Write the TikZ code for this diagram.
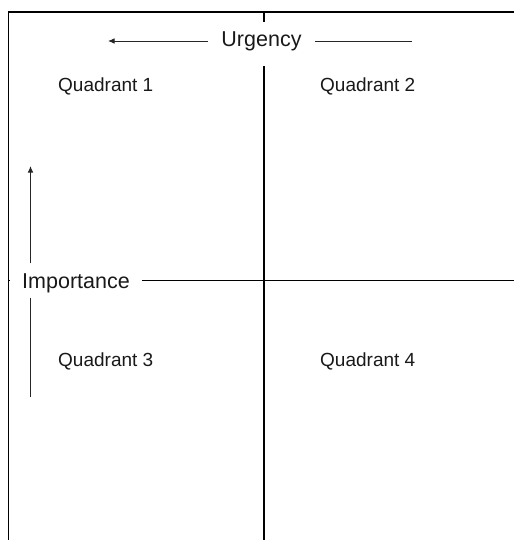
\documentclass[tikz,border=0pt]{standalone}
\usepackage{fontspec}
\setmainfont{Liberation Sans}
\usetikzlibrary{arrows.meta,calc}
\tikzset{
  frameline/.style={line width=1.9pt, black},
  axisline/.style={line width=1.7pt, black},
  arrline/.style={line width=0.9pt, black!85},
  arrtip/.style={-{Latex[length=6.5pt,width=5.5pt]}},
  quadlabel/.style={anchor=base west, inner sep=0pt, font=\fontsize{19}{23}\selectfont, text=black!90},
  axislabel/.style={inner sep=0pt, font=\fontsize{21.5}{25}\selectfont, text=black!90},
}
\begin{document}
\begin{tikzpicture}[x=1pt,y=-1pt]
\useasboundingbox (0,0) rectangle (514,540);
% frame
\coordinate (tl) at (8.5,12);
\coordinate (tr) at (514,12);
\coordinate (bl) at (8.5,540);
\draw[frameline] (bl) -- (tl) -- (tr);
% axis labels
\node[axislabel, minimum width=107pt, minimum height=44pt, text height=15.4pt, text depth=10pt] (urg) at (261.5,44) {Urgency};
\node[axislabel, minimum width=132pt, minimum height=34pt, text height=15.4pt, text depth=0pt] (imp) at (76,280.5) {Importance};
% vertical axis
\coordinate (vtop) at (264,12);
\coordinate (vbot) at (264,540);
\draw[axisline] (vtop) -- (urg.north -| vtop);
\draw[axisline] (urg.south -| vtop) -- (vbot);
% horizontal axis
\coordinate (hleft) at (8.5,280.5);
\coordinate (hright) at (514,280.5);
\draw[axisline] (hleft) -- (imp.west |- hleft);
\draw[axisline] (imp.east |- hleft) -- (hright);
% urgency arrow
\coordinate (ularr) at (108,41);
\coordinate (urarr) at (412,41);
\draw[arrline, arrtip] (urg.west |- ularr) -- (ularr);
\draw[arrline] (urg.east |- urarr) -- (urarr);
% importance arrow
\coordinate (vtip) at (30.5,166);
\coordinate (vlow) at (30.5,397);
\draw[arrline, arrtip] (imp.north -| vtip) -- (vtip);
\draw[arrline] (imp.south -| vlow) -- (vlow);
% quadrant labels
\node[quadlabel] (q1) at (58,92) {Quadrant 1};
\node[quadlabel] (q2) at (320,92) {Quadrant 2};
\node[quadlabel] (q3) at (58,366.7) {Quadrant 3};
\node[quadlabel] (q4) at (320,366.7) {Quadrant 4};
\end{tikzpicture}
\end{document}
